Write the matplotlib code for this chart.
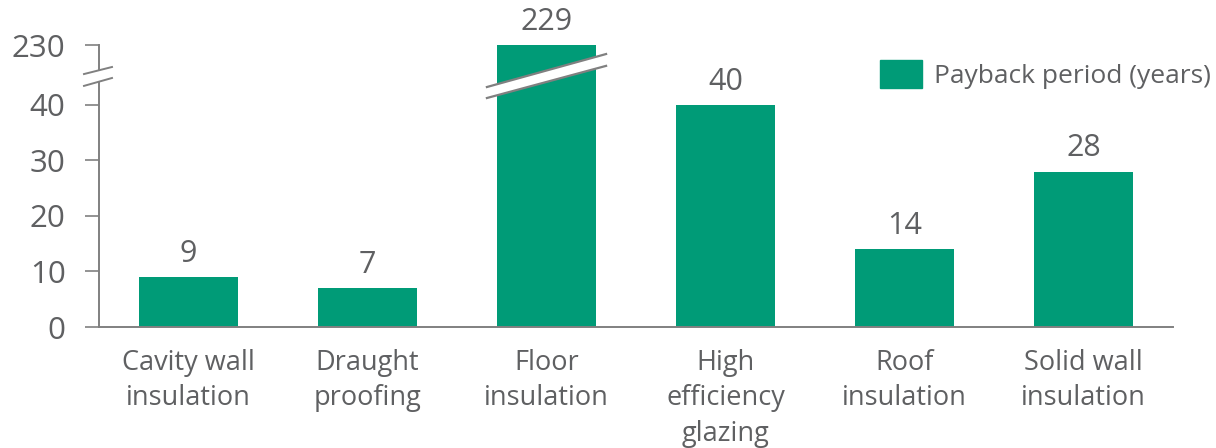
import numpy as np
import matplotlib
matplotlib.use("Agg")
import matplotlib.pyplot as plt
import matplotlib.transforms as mtransforms
from matplotlib.patches import Polygon, Patch

plt.rcParams['font.family'] = ['Open Sans', 'DejaVu Sans']

categories = ["Cavity wall\ninsulation", "Draught\nproofing", "Floor\ninsulation",
              "High\nefficiency\nglazing", "Roof\ninsulation", "Solid wall\ninsulation"]
payback_years = [9, 7, 229, 40, 14, 28]
y_ticks = [0, 10, 20, 30, 40, 230]

GREEN = "#009b77"
GREY_TXT = "#5f6062"
GREY_AX = "#808080"

# broken y axis: linear up to 40, then squeezed so 230 sits just above 50
BREAK = 40
SQUEEZE = 10.8 / 190


def fwd(v):
    v = np.asarray(v, dtype=float)
    return np.where(v <= BREAK, v, BREAK + (v - BREAK) * SQUEEZE)


def inv(v):
    v = np.asarray(v, dtype=float)
    return np.where(v <= BREAK, v, BREAK + (v - BREAK) / SQUEEZE)


fig = plt.figure(figsize=(12.16, 4.48), dpi=100)
ax = fig.add_axes([99 / 1216, 1 - 327 / 448, (1173 - 99) / 1216, (327 - 45) / 448])
ax.set_yscale("function", functions=(fwd, inv))

x = np.arange(len(categories))
bars = ax.bar(x, payback_years, width=0.553, color=GREEN, zorder=2)
for xi, v in zip(x, payback_years):
    ax.annotate(str(v), (xi, v), xytext=(0, 6), textcoords="offset points",
                ha="center", va="bottom", fontsize=22, color=GREY_TXT)

ax.set_xlim(-0.5, len(categories) - 0.5)
ax.set_ylim(0, 230)
ax.set_yticks(y_ticks)
ax.set_yticklabels([str(t) for t in y_ticks])
ax.set_xticks(x)
ax.set_xticklabels(categories, linespacing=1.34)
ax.tick_params(axis="y", length=10, width=1.2, color=GREY_AX, labelsize=22.5,
               labelcolor=GREY_TXT, pad=14)
ax.tick_params(axis="x", length=0, labelsize=19.5, labelcolor=GREY_TXT, pad=16)

for side in ("top", "right"):
    ax.spines[side].set_visible(False)
for side in ("left", "bottom"):
    ax.spines[side].set_color(GREY_AX)
    ax.spines[side].set_linewidth(1.4)

# break marks on the y axis
trans = mtransforms.blended_transform_factory(ax.transData, ax.transAxes)
px = 1 / 179  # one pixel in x data units
x0 = -0.5
ax.add_patch(Polygon([(x0 - 15 * px, 0.855), (x0 + 13 * px, 0.883),
                      (x0 + 13 * px, 0.922), (x0 - 15 * px, 0.897)],
                     closed=True, transform=trans, facecolor="white",
                     edgecolor="none", clip_on=False, zorder=4))
for ya, yb in [(0.897, 0.922), (0.855, 0.883)]:
    ax.plot([x0 - 15 * px, x0 + 13 * px], [ya, yb], color=GREY_AX, lw=1.4,
            transform=trans, clip_on=False, zorder=5)

# break marks across the tall bar
tall = int(np.argmax(payback_years))
bl, br = tall - 0.277 - 10 * px, tall + 0.277 + 10 * px
ax.add_patch(Polygon([(bl, 0.812), (br, 0.926), (br, 0.968), (bl, 0.851)],
                     closed=True, transform=trans, facecolor="white",
                     edgecolor="none", clip_on=False, zorder=4))
for ya, yb in [(0.851, 0.968), (0.812, 0.926)]:
    ax.plot([bl, br], [ya, yb], color=GREY_AX, lw=1.6, transform=trans,
            clip_on=False, zorder=5)

leg = ax.legend(handles=[Patch(color=GREEN, label="Payback period (years)")],
                loc="upper right", bbox_to_anchor=(1.045, 0.985), frameon=False,
                fontsize=19, handlelength=1.6, handleheight=1.25, handletextpad=0.45,
                borderaxespad=0)
for t in leg.get_texts():
    t.set_color(GREY_TXT)

fig.savefig("out.png", dpi=100)
